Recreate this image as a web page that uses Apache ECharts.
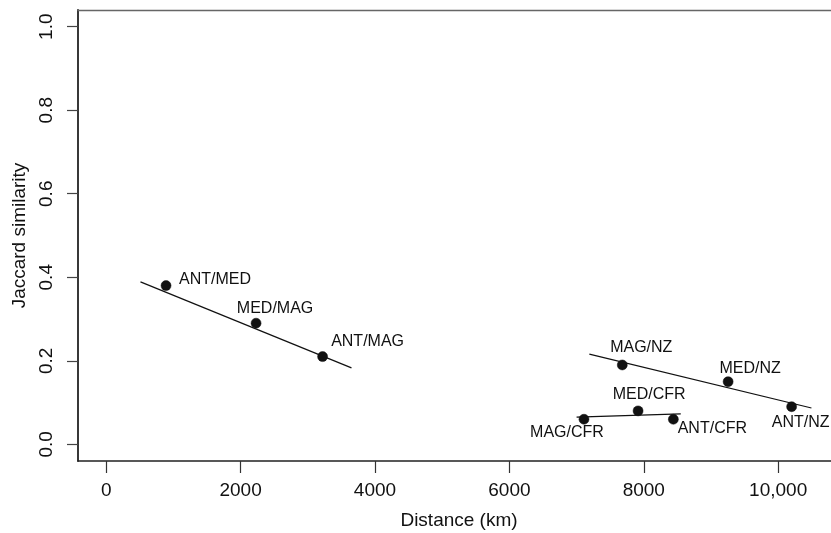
<!DOCTYPE html>
<html>
<head>
<meta charset="utf-8">
<script src="https://cdn.jsdelivr.net/npm/echarts@6/dist/echarts.min.js"></script>
<style>
html,body{margin:0;padding:0;background:#fff;}
#chart{width:831px;height:533px;}
</style>
</head>
<body>
<div id="chart"></div>
<script>
// ---- data ----
const pairNames   = ['ANT/MED','MED/MAG','ANT/MAG','MAG/NZ','MED/NZ','ANT/NZ','MAG/CFR','MED/CFR','ANT/CFR'];
const distanceKm  = [890, 2230, 3220, 7680, 9255, 10200, 7110, 7915, 8440];
const jaccard     = [0.38, 0.29, 0.21, 0.19, 0.15, 0.09, 0.06, 0.08, 0.06];

// fitted lines (endpoints)
const fitMediterranean = [[510, 0.389], [3650, 0.183]];
const fitNZ            = [[7190, 0.216], [10495, 0.087]];
const fitCFR           = [[7000, 0.065], [8550, 0.073]];

const xTickValues = [0, 2000, 4000, 6000, 8000, 10000];
const xTickLabels = ['0', '2000', '4000', '6000', '8000', '10,000'];
const yTickValues = [0, 0.2, 0.4, 0.6, 0.8, 1.0];
const yTickLabels = ['0.0', '0.2', '0.4', '0.6', '0.8', '1.0'];

// label placement (pixel offsets from each point), kept separate from data
const labelOffset = {
  'ANT/MED': [49, -6], 'MED/MAG': [19, -15], 'ANT/MAG': [45, -15],
  'MAG/NZ': [19, -17], 'MED/NZ': [22, -13], 'ANT/NZ': [9, 16],
  'MAG/CFR': [-17, 13], 'MED/CFR': [11, -16], 'ANT/CFR': [39, 9]
};

const FONT = "'Liberation Sans', Arial, Helvetica, sans-serif";
const INK = '#111';

const points = pairNames.map((n, i) => ({
  name: n,
  value: [distanceKm[i], jaccard[i]],
  label: { offset: labelOffset[n] }
}));

const lineSeries = (d) => ({
  type: 'line', data: d, symbol: 'none', silent: true,
  lineStyle: { color: INK, width: 1.2 }, z: 1
});

const chart = echarts.init(document.getElementById('chart'), null, { renderer: 'canvas' });
chart.setOption({
  animation: false,
  backgroundColor: '#fff',
  textStyle: { fontFamily: FONT },
  grid: {
    left: 78, right: -9, top: 10, bottom: 72,
    show: false,
    containLabel: false, outerBoundsMode: 'none'
  },
  xAxis: [{
    type: 'value', min: -420, max: 10920,
    name: 'Distance (km)', nameLocation: 'middle', nameGap: 50,
    nameTextStyle: { fontSize: 19, color: INK, fontFamily: FONT },
    axisLine: { show: true, onZero: false, lineStyle: { color: '#222', width: 1.5 } },
    axisTick: { show: true, inside: false, length: 12, customValues: xTickValues, lineStyle: { color: '#333', width: 1.2 } },
    axisLabel: {
      customValues: xTickValues, margin: 20, fontSize: 19, color: INK, fontFamily: FONT,
      formatter: (v) => { const k = xTickValues.indexOf(v); return k >= 0 ? xTickLabels[k] : ''; }
    },
    splitLine: { show: false }
  }, {
    type: 'value', position: 'top', min: -420, max: 10920,
    axisLine: { show: true, onZero: false, lineStyle: { color: '#666', width: 1.3 } },
    axisTick: { show: false }, axisLabel: { show: false }, splitLine: { show: false }
  }],
  yAxis: {
    type: 'value', min: -0.04, max: 1.04,
    name: 'Jaccard similarity', nameLocation: 'middle', nameGap: 48,
    nameTextStyle: { fontSize: 19, color: INK, fontFamily: FONT },
    axisLine: { show: true, onZero: false, lineStyle: { color: '#222', width: 1.8 } },
    axisTick: { show: true, inside: false, length: 11, customValues: yTickValues, lineStyle: { color: '#444', width: 1.2 } },
    axisLabel: {
      customValues: yTickValues, rotate: 90, margin: 22, fontSize: 19, color: INK, fontFamily: FONT,
      formatter: (v) => { const k = yTickValues.findIndex(t => Math.abs(t - v) < 1e-9); return k >= 0 ? yTickLabels[k] : ''; }
    },
    splitLine: { show: false }
  },
  series: [
    lineSeries(fitMediterranean),
    lineSeries(fitNZ),
    lineSeries(fitCFR),
    {
      type: 'scatter', data: points, symbol: 'circle', symbolSize: 10, z: 3,
      itemStyle: { color: INK, borderColor: INK, borderWidth: 0.5, opacity: 1 },
      label: {
        show: true, position: 'inside', align: 'center', verticalAlign: 'middle',
        formatter: '{b}', fontSize: 16, color: INK, fontFamily: FONT, opacity: 1
      }
    }
  ]
});
</script>
</body>
</html>
